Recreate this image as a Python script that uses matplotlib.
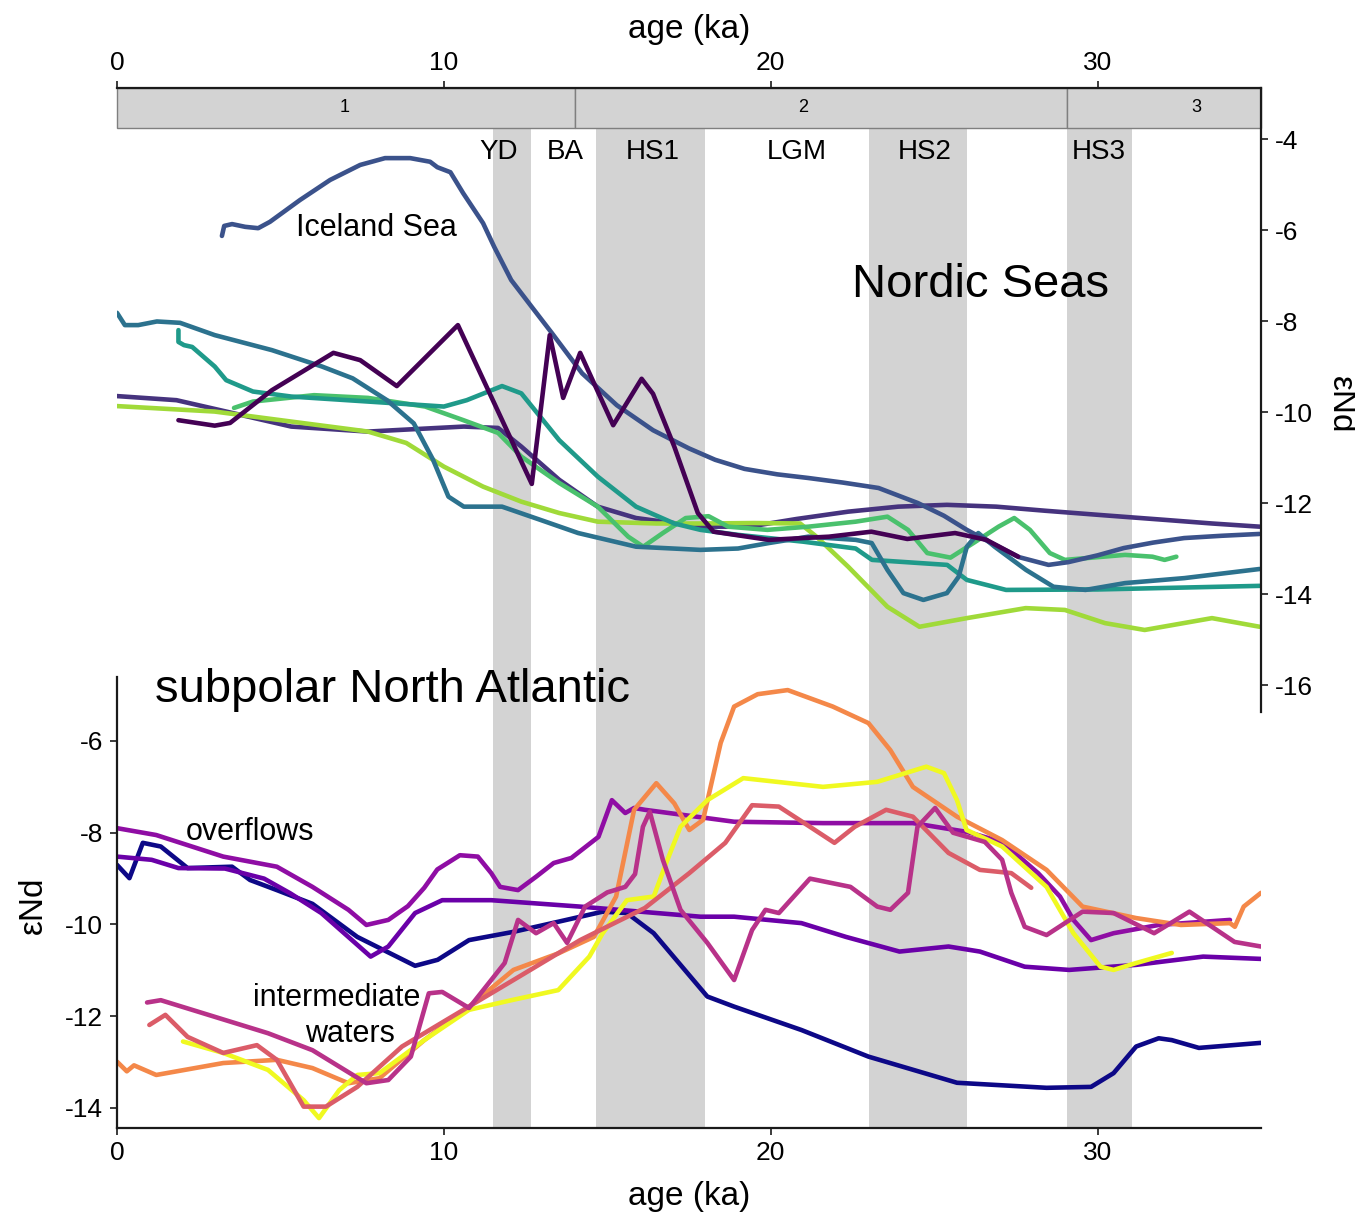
#!/usr/bin/env python

# Nordic Seas and subpolar North Atlantic eNd records over the last 35 ka
# Dependencies: numpy, matplotlib

import numpy as np
import matplotlib.pyplot as plt
from matplotlib.patches import Rectangle

plt.rcParams['font.family'] = ['Liberation Sans', 'DejaVu Sans']
plt.rcParams['axes.unicode_minus'] = False

# Data
#---------------------------------------------
# Climate events (ka)
event_names = ['YD', 'HS1', 'HS2', 'HS3']
event_start = [11.5, 14.65, 23.0, 29.05]
event_end = [12.67, 18.0, 26.02, 31.04]
event_labels = ['YD', 'BA', 'HS1', 'LGM', 'HS2', 'HS3']
event_label_age = [11.66, 13.7, 16.38, 20.8, 24.7, 30.03]

# Marine isotope stages
mis_names = ['1', '2', '3']
mis_bounds = [0.0, 14.02, 29.05, 35.0]
mis_label_age = [6.95, 21.0, 33.03]

# Nordic Seas records (age ka, eNd)
iceland_age = [3.21, 3.28, 3.52, 3.92, 4.32, 4.68, 5.6, 6.52, 7.44, 8.2, 8.97, 9.58, 9.8, 10.2,
               10.59, 11.2, 11.54, 12.06, 12.7, 13.3, 14.23, 15.29, 16.4, 17.5, 18.3, 19.2, 20.2,
               21.15, 22.2, 23.3, 24.5, 25.3, 26.0, 26.8, 27.6, 28.5, 29.1, 30.0, 30.8, 31.7,
               32.65, 33.8, 34.95]
iceland_end = [-6.13, -5.91, -5.87, -5.93, -5.96, -5.82, -5.34, -4.9, -4.57, -4.42, -4.42, -4.5,
               -4.62, -4.73, -5.19, -5.85, -6.37, -7.1, -7.7, -8.26, -9.15, -9.85, -10.4, -10.8,
               -11.05, -11.25, -11.37, -11.45, -11.55, -11.67, -12.0, -12.28, -12.59, -12.9,
               -13.19, -13.36, -13.3, -13.15, -12.99, -12.87, -12.77, -12.72, -12.68]

zigzag_age = [1.88, 2.99, 3.46, 4.74, 6.62, 7.44, 8.56, 10.43, 12.69, 13.24, 13.65, 14.17, 15.18,
              16.05, 16.4, 17.05, 17.77, 18.25, 19.94, 21.78, 23.08, 24.18, 25.64, 26.6, 27.57]
zigzag_end = [-10.18, -10.3, -10.24, -9.52, -8.7, -8.86, -9.43, -8.09, -11.58, -8.31, -9.69, -8.7,
              -10.29, -9.27, -9.6, -10.76, -12.22, -12.63, -12.81, -12.74, -12.63, -12.79, -12.66,
              -12.81, -13.18]

indigo_age = [0, 1.82, 3.34, 5.33, 7.68, 10.61, 11.66, 12.37, 13.53, 14.71, 15.88, 17.85, 19.34,
              20.8, 22.37, 23.9, 25.39, 26.9, 28.4, 30.2, 32.05, 33.5, 34.96]
indigo_end = [-9.65, -9.74, -9.99, -10.32, -10.43, -10.32, -10.35, -10.76, -11.49, -12.08, -12.33,
              -12.52, -12.52, -12.35, -12.19, -12.08, -12.04, -12.08, -12.17, -12.27, -12.37,
              -12.45, -12.52]

darkteal_age = [0, 0.24, 0.65, 1.22, 1.93, 2.99, 4.74, 6.27, 7.21, 8.26, 9.08, 9.67, 10.14, 10.61,
                11.78, 12.95, 14.11, 15.88, 17.85, 19.0, 19.94, 21.15, 22.6, 23.09, 23.57, 24.06,
                24.67, 25.39, 25.75, 26.0, 26.35, 26.85, 27.81, 28.65, 29.63, 30.84, 32.66, 34.96]
darkteal_end = [-7.82, -8.09, -8.09, -8.01, -8.04, -8.31, -8.64, -9.0, -9.26, -9.74, -10.25,
                -11.05, -11.86, -12.08, -12.08, -12.37, -12.66, -12.96, -13.03, -13.0, -12.88,
                -12.74, -12.81, -12.88, -13.47, -13.98, -14.13, -13.98, -13.62, -12.96, -12.66,
                -12.96, -13.47, -13.84, -13.91, -13.76, -13.65, -13.45]

tealgreen_age = [1.88, 1.88, 2.05, 2.3, 2.99, 3.34, 4.16, 5.33, 7.68, 10.0, 10.7, 11.78, 12.37,
                 13.53, 14.71, 15.88, 17.05, 17.85, 19.0, 21.0, 22.6, 23.1, 25.4, 26.0, 27.2,
                 30.0, 35.0]
tealgreen_end = [-8.2, -8.46, -8.53, -8.57, -9.0, -9.3, -9.55, -9.66, -9.77, -9.88, -9.74, -9.43,
                 -9.59, -10.62, -11.42, -12.08, -12.45, -12.59, -12.7, -12.85, -13.0, -13.25,
                 -13.36, -13.69, -13.91, -13.9, -13.82]

green_age = [3.58, 4.16, 6.03, 7.68, 9.43, 10.6, 11.66, 12.37, 13.53, 14.71, 15.64, 16.1, 16.7,
             17.4, 18.1, 18.7, 19.9, 21.15, 22.6, 23.57, 24.2, 24.79, 25.5, 26.2, 26.97, 27.45,
             27.93, 28.54, 29.0, 30.84, 31.68, 32.05, 32.41]
green_end = [-9.91, -9.77, -9.63, -9.69, -9.88, -10.18, -10.46, -10.98, -11.56, -12.08, -12.74,
             -12.96, -12.66, -12.33, -12.29, -12.52, -12.59, -12.52, -12.41, -12.3, -12.59, -13.1,
             -13.2, -12.88, -12.52, -12.33, -12.59, -13.1, -13.25, -13.14, -13.18, -13.25, -13.18]

lightgreen_age = [0, 2.99, 5.33, 7.68, 8.85, 10.0, 11.2, 12.37, 13.53, 14.71, 16.5, 17.85, 19.5,
                  20.9, 21.4, 22.37, 23.57, 24.55, 26.0, 27.8, 29.0, 30.23, 31.44, 33.5, 34.96]
lightgreen_end = [-9.87, -9.99, -10.21, -10.43, -10.68, -11.2, -11.64, -11.97, -12.22, -12.41,
                  -12.45, -12.45, -12.44, -12.45, -12.74, -13.4, -14.28, -14.72, -14.53, -14.31,
                  -14.35, -14.64, -14.79, -14.53, -14.72]

# Subpolar North Atlantic records (age ka, eNd)
navy_age = [0, 0.38, 0.79, 1.34, 2.16, 3.52, 4.07, 4.89, 5.98, 7.35, 9.12, 9.81, 10.77, 12.13,
            13.5, 14.86, 15.6, 16.42, 18.06, 18.88, 20.94, 22.99, 25.7, 28.44, 29.8, 30.49, 31.18,
            31.87, 32.27, 33.1, 35.0]
navy_end = [-8.7, -8.99, -8.22, -8.3, -8.77, -8.74, -9.03, -9.25, -9.55, -10.27, -10.9, -10.77,
            -10.34, -10.16, -9.94, -9.72, -9.75, -10.19, -11.57, -11.79, -12.3, -12.88, -13.45,
            -13.56, -13.54, -13.24, -12.66, -12.48, -12.52, -12.69, -12.58]

purple_age = [0, 1.06, 1.88, 3.3, 4.5, 5.3, 6.25, 7.76, 8.3, 9.12, 9.95, 11.45, 14.17, 17.85,
              18.88, 20.94, 22.3, 23.94, 25.44, 26.4, 27.77, 29.13, 31.18, 33.23, 35.0]
purple_end = [-8.52, -8.59, -8.77, -8.78, -9.0, -9.32, -9.75, -10.7, -10.48, -9.75, -9.47, -9.47,
              -9.61, -9.83, -9.83, -9.97, -10.27, -10.59, -10.48, -10.59, -10.92, -10.99, -10.88,
              -10.7, -10.75]

violet_age = [0, 1.2, 3.25, 4.89, 5.98, 7.08, 7.63, 8.3, 8.9, 9.4, 9.8, 10.49, 11.04, 11.45,
              11.72, 12.27, 12.82, 13.36, 13.9, 14.73, 15.14, 15.55, 15.82, 16.15, 18.88, 21.6,
              24.35, 25.99, 27.08, 28.18, 28.85, 29.26, 29.8, 30.49, 31.87, 34.05]
violet_end = [-7.9, -8.05, -8.52, -8.74, -9.18, -9.68, -10.01, -9.9, -9.6, -9.2, -8.8, -8.49,
              -8.52, -8.88, -9.18, -9.25, -8.96, -8.66, -8.55, -8.09, -7.29, -7.57, -7.46, -7.5,
              -7.76, -7.79, -7.79, -7.98, -8.2, -8.88, -9.39, -9.9, -10.34, -10.19, -10.01, -9.9]

magenta_age = [0.92, 1.34, 4.62, 5.98, 7.63, 8.3, 8.99, 9.54, 9.95, 10.77, 11.45, 11.86, 12.27,
               12.82, 13.36, 13.77, 14.32, 15.0, 15.55, 15.85, 16.09, 16.3, 16.7, 17.24, 18.06,
               18.88, 19.43, 19.84, 20.25, 21.2, 22.44, 23.26, 23.66, 24.2, 24.49, 25.03, 25.58,
               26.55, 27.08, 27.36, 27.77, 28.44, 29.54, 30.49, 31.73, 32.81, 34.19, 35.0]
magenta_end = [-11.7, -11.65, -12.37, -12.74, -13.46, -13.39, -12.88, -11.5, -11.47, -11.82,
               -11.21, -10.84, -9.9, -10.19, -9.97, -10.4, -9.61, -9.3, -9.18, -8.9, -7.87, -7.54,
               -8.59, -9.68, -10.4, -11.21, -10.12, -9.68, -9.75, -9.0, -9.18, -9.61, -9.68,
               -9.31, -7.87, -7.46, -8.0, -8.2, -8.59, -9.31, -10.05, -10.23, -9.72, -9.75,
               -10.19, -9.72, -10.38, -10.48]

salmon_age = [0.99, 1.48, 2.16, 3.25, 4.28, 4.89, 5.71, 6.39, 7.35, 8.72, 10.08, 12.13, 14.17,
              16.15, 17.51, 18.61, 19.43, 20.25, 21.2, 21.95, 22.57, 23.53, 24.35, 25.44, 26.4,
              27.36, 27.97]
salmon_end = [-12.19, -11.97, -12.45, -12.8, -12.63, -12.95, -13.97, -13.97, -13.54, -12.66,
              -12.08, -11.21, -10.34, -9.64, -8.88, -8.22, -7.4, -7.43, -7.87, -8.22, -7.87, -7.5,
              -7.65, -8.44, -8.81, -8.88, -9.2]

orange_age = [0, 0.3, 0.52, 1.2, 3.25, 4.89, 5.98, 7.08, 8.03, 9.4, 10.77, 12.13, 13.5, 14.59,
              15.27, 15.82, 16.5, 17.05, 17.51, 17.93, 18.47, 18.88, 19.6, 20.52, 21.9, 22.99,
              23.66, 24.35, 25.7, 27.08, 28.44, 29.54, 31.18, 32.55, 34.05, 34.2, 34.47, 35.0]
orange_end = [-12.99, -13.2, -13.07, -13.28, -13.02, -12.95, -13.13, -13.46, -13.35, -12.52,
              -11.79, -10.99, -10.63, -10.27, -9.39, -7.5, -6.92, -7.36, -7.94, -7.72, -6.04,
              -5.25, -4.98, -4.89, -5.25, -5.61, -6.2, -7.0, -7.65, -8.16, -8.81, -9.61, -9.86,
              -10.01, -9.97, -10.05, -9.61, -9.31]

yellow_age = [2.02, 3.25, 4.62, 5.71, 6.18, 6.8, 7.35, 8.03, 9.4, 10.77, 12.13, 13.5, 14.45,
              14.85, 15.6, 16.42, 16.84, 17.24, 18.06, 19.16, 21.6, 23.26, 24.76, 25.3, 25.7,
              25.99, 27.08, 28.44, 29.26, 30.09, 30.49, 31.18, 32.27]
yellow_end = [-12.55, -12.8, -13.17, -13.83, -14.22, -13.61, -13.28, -13.24, -12.52, -11.86,
              -11.64, -11.43, -10.7, -10.2, -9.47, -9.39, -8.59, -7.87, -7.29, -6.81, -7.0, -6.89,
              -6.56, -6.7, -7.29, -7.94, -8.3, -9.18, -10.19, -10.92, -10.99, -10.84, -10.62]


# Figure layout (pixel geometry of the original)
#---------------------------------------------
W, H = 1355, 1214
fig = plt.figure(figsize=(W / 100, H / 100), dpi=100)

def pixaxes(x0, y0, x1, y1):
    return fig.add_axes([x0 / W, 1 - y1 / H, (x1 - x0) / W, (y1 - y0) / H])

ax_bg = pixaxes(117, 88, 1261, 1128)
ax_top = pixaxes(117, 88, 1261, 712)
ax_bot = pixaxes(117, 677, 1261, 1128)

LW = 3.3
TICKSIZE = 19
GRAY = '#d3d3d3'
AXCOL = '#1a1a1a'

# Background: events, stages, age axes
#---------------------------------------------
box_lo = 1 - 40 / 1040
ax_bg.set_xlim(0, 35)
ax_bg.set_ylim(0, 1)
for s, e in zip(event_start, event_end):
    ax_bg.axvspan(s, e, 0, box_lo, color=GRAY, lw=0)
for name, xa in zip(event_labels, event_label_age):
    ax_bg.text(xa, 0.9385, name, ha='center', va='center', fontsize=20)

trans = ax_bg.get_xaxis_transform()
for i in range(len(mis_names)):
    ax_bg.add_patch(Rectangle((mis_bounds[i], box_lo), mis_bounds[i + 1] - mis_bounds[i],
                              1 - box_lo, transform=trans, facecolor=GRAY,
                              edgecolor='#7f7f7f', lw=1.0, clip_on=False))
    ax_bg.text(mis_label_age[i], 0.9817, mis_names[i], ha='center', va='center', fontsize=13)

ax_bg.set_xticks([0, 10, 20, 30])
ax_bg.set_yticks([])
ax_bg.tick_params(axis='x', top=True, labeltop=True, bottom=True, labelbottom=True,
                  labelsize=TICKSIZE, length=5, width=1.2, color=AXCOL, pad=4)
for side in ['left', 'right']:
    ax_bg.spines[side].set_visible(False)
for side in ['top', 'bottom']:
    ax_bg.spines[side].set_linewidth(1.6)
    ax_bg.spines[side].set_color(AXCOL)
ax_bg.text(0.5, 1.0567, 'age (ka)', transform=ax_bg.transAxes, ha='center', va='center',
           fontsize=24)
ax_bg.text(0.5, -0.066, 'age (ka)', transform=ax_bg.transAxes, ha='center', va='center',
           fontsize=24)

# Nordic Seas panel
#---------------------------------------------
ax_top.patch.set_alpha(0)
ax_top.set_xlim(0, 35)
ax_top.set_ylim(-16.593, -2.879)
top_series = [
    (indigo_age, indigo_end, '#46337e'),
    (lightgreen_age, lightgreen_end, '#a0da39'),
    (green_age, green_end, '#4ac16d'),
    (tealgreen_age, tealgreen_end, '#1f9a8a'),
    (darkteal_age, darkteal_end, '#2c728e'),
    (iceland_age, iceland_end, '#3b528b'),
    (zigzag_age, zigzag_end, '#440154'),
]
for xa, ya, col in top_series:
    ax_top.plot(xa, ya, color=col, lw=LW, solid_joinstyle='round', solid_capstyle='round')
ax_top.set_xticks([])
ax_top.yaxis.tick_right()
ax_top.set_yticks(np.arange(-16, -3, 2))
ax_top.tick_params(axis='y', labelsize=TICKSIZE, length=5, width=1.2, color=AXCOL, pad=5)
for side in ['left', 'top', 'bottom']:
    ax_top.spines[side].set_visible(False)
ax_top.spines['right'].set_linewidth(1.6)
ax_top.spines['right'].set_color(AXCOL)
ax_top.text(1.069, 0.492, '\u03b5Nd', transform=ax_top.transAxes, rotation=270,
            ha='center', va='center', fontsize=24)
ax_top.text(5.48, -5.956, 'Iceland Sea', ha='left', va='center', fontsize=22)
ax_top.text(22.5, -7.21, 'Nordic Seas', ha='left', va='center', fontsize=34)

# Subpolar North Atlantic panel
#---------------------------------------------
ax_bot.patch.set_alpha(0)
ax_bot.set_xlim(0, 35)
ax_bot.set_ylim(-14.436, -4.605)
bot_series = [
    (navy_age, navy_end, '#0d0887'),
    (purple_age, purple_end, '#6a00a8'),
    (violet_age, violet_end, '#8f0da4'),
    (orange_age, orange_end, '#f48849'),
    (yellow_age, yellow_end, '#f0f921'),
    (salmon_age, salmon_end, '#db5c68'),
    (magenta_age, magenta_end, '#b83289'),
]
for xa, ya, col in bot_series:
    ax_bot.plot(xa, ya, color=col, lw=LW, solid_joinstyle='round', solid_capstyle='round')
ax_bot.set_xticks([])
ax_bot.set_yticks(np.arange(-14, -5, 2))
ax_bot.tick_params(axis='y', labelsize=TICKSIZE, length=5, width=1.2, color=AXCOL, pad=5)
for side in ['right', 'top', 'bottom']:
    ax_bot.spines[side].set_visible(False)
ax_bot.spines['left'].set_linewidth(1.6)
ax_bot.spines['left'].set_color(AXCOL)
ax_bot.text(-0.0734, 0.494, '\u03b5Nd', transform=ax_bot.transAxes, rotation=90,
            ha='center', va='center', fontsize=24)
ax_bot.text(1.16, -4.89, 'subpolar North Atlantic', ha='left', va='center', fontsize=34)
ax_bot.text(2.11, -7.98, 'overflows', ha='left', va='center', fontsize=22)
ax_bot.text(6.73, -11.6, 'intermediate', ha='center', va='center', fontsize=22)
ax_bot.text(7.13, -12.39, 'waters', ha='center', va='center', fontsize=22)

fig.savefig('out.png', dpi=100)
plt.close('all')
